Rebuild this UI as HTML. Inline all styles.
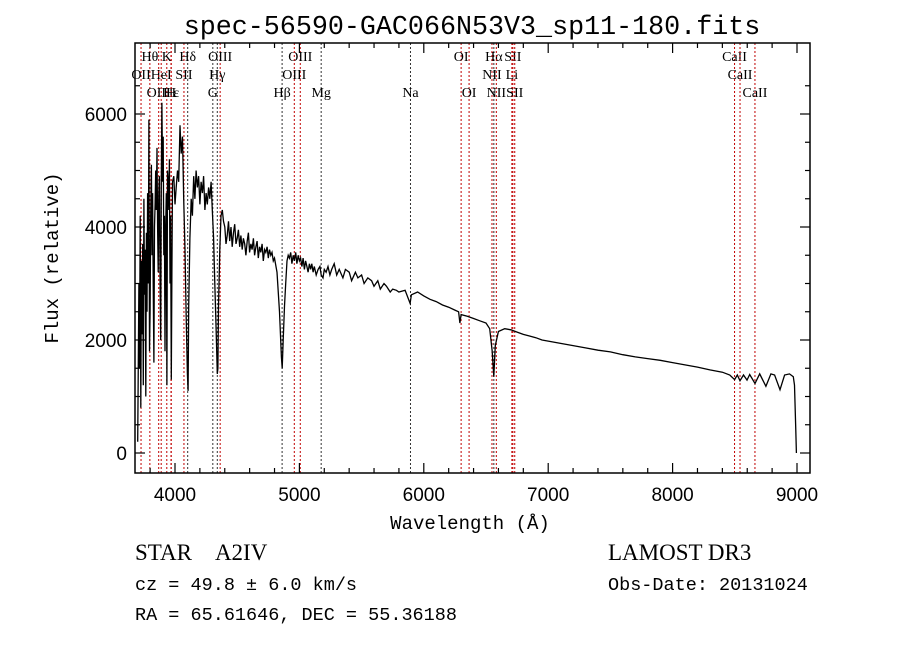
<!DOCTYPE html>
<html><head><meta charset="utf-8"><style>
html,body{margin:0;padding:0;background:#fff;}
svg{display:block;}
text{fill:#000;}
</style></head><body>
<svg id="chart" width="900" height="649" viewBox="0 0 900 649" xmlns="http://www.w3.org/2000/svg">
<rect width="900" height="649" fill="#fff"/>
<text x="472" y="34" text-anchor="middle" font-family="Liberation Mono, monospace" font-size="26.7">spec-56590-GAC066N53V3_sp11-180.fits</text>
<g id="lines"></g>
<g id="spec"></g>
<g id="axes"></g>
<text x="470" y="529" text-anchor="middle" font-family="Liberation Mono, monospace" font-size="19">Wavelength (Å)</text>
<text transform="translate(58,258) rotate(-90)" text-anchor="middle" font-family="Liberation Mono, monospace" font-size="19">Flux (relative)</text>
<text x="135" y="560" font-family="Liberation Serif, serif" font-size="23">STAR&#160;&#160;&#160;&#160;A2IV</text>
<text x="135" y="590" font-family="Liberation Mono, monospace" font-size="18.5">cz = 49.8 ± 6.0 km/s</text>
<text x="135" y="620" font-family="Liberation Mono, monospace" font-size="18.5">RA =  65.61646, DEC =  55.36188</text>
<text x="608" y="560" font-family="Liberation Serif, serif" font-size="23">LAMOST DR3</text>
<text x="608" y="590" font-family="Liberation Mono, monospace" font-size="18.5">Obs-Date: 20131024</text>
</svg>
<script>
const wavelengths=[
3700,3710,3715,3720,3725,3730,3735,3740,3745,3750,
3755,3760,3765,3770,3775,3780,3785,3790,3795,3800,
3805,3810,3815,3820,3825,3830,3835,3840,3845,3850,
3855,3860,3865,3870,3875,3880,3885,3890,3895,3900,
3905,3910,3915,3920,3925,3930,3935,3940,3945,3950,
3955,3960,3965,3970,3975,3980,3990,4000,4010,4020,
4030,4040,4050,4060,4070,4080,4090,4100,4105,4110,
4120,4130,4140,4150,4160,4170,4180,4190,4200,4210,
4220,4230,4240,4250,4260,4270,4280,4290,4300,4310,
4320,4330,4340,4345,4350,4360,4370,4380,4390,4400,
4410,4420,4430,4440,4450,4460,4470,4480,4490,4500,
4510,4520,4530,4540,4550,4560,4570,4580,4590,4600,
4610,4620,4630,4640,4650,4660,4670,4680,4690,4700,
4710,4720,4730,4740,4750,4760,4770,4780,4790,4800,
4820,4840,4855,4862,4870,4880,4890,4900,4910,4920,
4930,4940,4950,4960,4970,4980,4990,5000,5010,5020,
5030,5040,5050,5060,5070,5080,5090,5100,5110,5120,
5135,5150,5165,5175,5190,5200,5215,5230,5245,5260,
5280,5300,5320,5350,5370,5400,5420,5450,5470,5500,
5520,5550,5580,5600,5630,5650,5680,5700,5730,5750,
5780,5800,5850,5890,5900,5950,6000,6050,6100,6150,
6200,6250,6280,6290,6300,6350,6400,6450,6500,6530,
6550,6563,6575,6600,6650,6700,6750,6800,6850,6900,
6950,7000,7100,7200,7300,7400,7500,7600,7700,7800,
7900,8000,8100,8200,8300,8400,8460,8498,8520,8542,
8570,8598,8620,8662,8700,8750,8790,8820,8863,8900,
8940,8970,8980,8990,8995];
const fluxes=[
200,3000,1500,4200,800,3400,2100,3700,1200,4500,
2800,3600,1000,3900,2500,4600,3000,5900,1800,2500,
4200,5100,3500,4600,3000,1600,4000,4400,5000,4300,
5400,4000,3200,4600,4900,3000,2000,4800,6200,4800,
5600,3500,4200,1800,4000,4600,1200,5000,4800,4300,
5200,3000,4200,1300,3200,4800,4900,4400,4700,5000,
4800,5800,5300,5600,4500,3600,2400,1400,1100,2600,
3800,4500,4200,4900,4500,5000,4700,4900,4400,4800,
4600,4900,4300,4600,4400,4700,4500,4800,4300,3800,
3000,2200,1400,1500,2600,3600,4200,4300,4100,4000,
3700,3850,4100,3750,4000,3650,3900,4050,3700,3800,
3950,3650,3850,3600,3800,3700,3500,3750,3900,3550,
3700,3600,3800,3500,3650,3750,3450,3650,3550,3700,
3400,3600,3550,3650,3450,3600,3500,3550,3400,3450,
3200,2500,1700,1500,2000,2600,3000,3400,3500,3450,
3550,3350,3500,3400,3550,3350,3500,3400,3450,3300,
3450,3250,3400,3300,3200,3350,3250,3350,3200,3300,
3150,3250,3300,3150,3100,3250,3200,3300,3150,3250,
3350,3150,3250,3100,3250,3200,3050,3200,3100,3150,
3000,3100,3050,2950,3050,2900,3000,2950,2850,2900,
2880,2850,2880,2650,2800,2850,2780,2720,2680,2620,
2580,2530,2500,2300,2450,2420,2380,2340,2300,2200,
1800,1350,1900,2150,2200,2180,2140,2100,2070,2040,
2000,1980,1940,1900,1860,1820,1790,1740,1700,1670,
1640,1600,1560,1520,1470,1430,1380,1300,1380,1280,
1380,1290,1390,1230,1400,1180,1400,1380,1120,1380,
1400,1350,1200,400,0];
const lineNames=["Hθ","K","Hδ","OIII","OIII","OI","Hα","SII","CaII","OII","HeI","SII","Hγ","OIII","NII","Li","CaII","OIII","Hε","H","G","Hβ","Mg","Na","OI","NII","SII","CaII"];
const lineWaves=[3798,3934,4102,4363,5007,6300,6563,6716,8498,3727,3889,4072,4340,4959,6548,6708,8542,3869,3970,3968,4304,4861,5175,5893,6364,6583,6731,8662];
const lineRows=[0,0,0,0,0,0,0,0,0,1,1,1,1,1,1,1,1,2,2,2,2,2,2,2,2,2,2,2];
const lineBlack=[0,0,1,0,0,0,1,0,0,0,0,0,1,0,0,0,0,0,0,0,1,1,1,1,0,0,0,0];
const xTicks=[4000,5000,6000,7000,8000,9000];
const yTicks=[0,2000,4000,6000];

const L=135,R=810,T=43,B=473;
const X=w=>175+(w-4000)*0.1244;
const Y=f=>453-f*0.0565;
const NS="http://www.w3.org/2000/svg";
function mk(tag,parent){const e=document.createElementNS(NS,tag);parent.appendChild(e);return e;}

const lg=document.getElementById('lines');
lineWaves.forEach((w,i)=>{
  const x=X(w);
  const l=mk('line',lg);
  
  
  l.setAttribute('x1',x);l.setAttribute('x2',x);l.setAttribute('y1',T);l.setAttribute('y2',B);
  l.setAttribute('stroke',lineBlack[i]?'#333':'#c00000');l.setAttribute('stroke-width','1');l.setAttribute('stroke-dasharray','2,2');
  const t=mk('text',lg);
  
  
  t.setAttribute('x',x);t.setAttribute('y',61+lineRows[i]*18);
  t.setAttribute('text-anchor','middle');t.setAttribute('font-family','Liberation Serif, serif');t.setAttribute('font-size','14');
  t.textContent=lineNames[i];
});

const sg=document.getElementById('spec');
const p=mk('polyline',sg);


const n=Math.min(wavelengths.length,fluxes.length);
const pts=[];
for(let i=0;i<n;i++)pts.push(X(wavelengths[i]).toFixed(1)+','+Y(fluxes[i]).toFixed(1));
p.setAttribute('points',pts.join(' '));
p.setAttribute('fill','none');p.setAttribute('stroke','#000');p.setAttribute('stroke-width','1.3');

const ag=document.getElementById('axes');
const fr=mk('rect',ag);


fr.setAttribute('x',L);fr.setAttribute('y',T);fr.setAttribute('width',R-L);fr.setAttribute('height',B-T);
fr.setAttribute('fill','none');fr.setAttribute('stroke','#000');fr.setAttribute('stroke-width','1.5');
function tick(x1,y1,x2,y2){const l=mk('line',ag);
  
  
  l.setAttribute('x1',x1);l.setAttribute('y1',y1);l.setAttribute('x2',x2);l.setAttribute('y2',y2);l.setAttribute('stroke','#000');l.setAttribute('stroke-width','1.2');}
for(let w=3800;w<=9100;w+=200){const x=X(w);if(x<L||x>R)continue;const len=(w%1000===0)?10:5;tick(x,B,x,B-len);tick(x,T,x,T+len);}
for(let f=0;f<=6500;f+=500){const y=Y(f);if(y<T)continue;const len=(f%2000===0)?10:5;tick(L,y,L+len,y);tick(R,y,R-len,y);}
xTicks.forEach(w=>{const t=mk('text',ag);
  
  
  t.setAttribute('x',X(w));t.setAttribute('y',501);t.setAttribute('text-anchor','middle');t.setAttribute('font-family','Liberation Sans, sans-serif');t.setAttribute('font-size','19');t.textContent=w;});
yTicks.forEach(f=>{const t=mk('text',ag);
  
  
  t.setAttribute('x',127);t.setAttribute('y',Y(f)+7);t.setAttribute('text-anchor','end');t.setAttribute('font-family','Liberation Sans, sans-serif');t.setAttribute('font-size','19');t.textContent=f;});
</script>
</body></html>
